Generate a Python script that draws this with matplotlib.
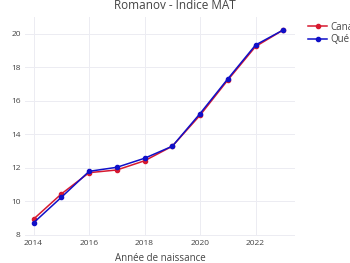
import matplotlib
matplotlib.use("Agg")
import matplotlib.pyplot as plt

years = [2014, 2015, 2016, 2017, 2018, 2019, 2020, 2021, 2022, 2023]
canada = [8.95, 10.45, 11.72, 11.88, 12.43, 13.30, 15.15, 17.25, 19.25, 20.24]
quebec = [8.73, 10.25, 11.80, 12.04, 12.58, 13.30, 15.25, 17.32, 19.34, 20.24]
series_names = ["Canada", "Québec"]
x_ticks = [2014, 2016, 2018, 2020, 2022]
y_ticks = [8, 10, 12, 14, 16, 18, 20]

plt.rcParams["font.family"] = ["Open Sans", "DejaVu Sans"]
W, H = 350, 263
fig = plt.figure(figsize=(W / 100, H / 100), dpi=100)
fig.patch.set_facecolor("white")
ax = fig.add_axes([25 / W, 1 - 236 / H, 270 / W, 219 / H])

red = "#d7192f"
blue = "#1010c8"
ax.plot(years, canada, color=red, lw=1.1, marker="o", ms=3, label=series_names[0], zorder=3)
ax.plot(years, quebec, color=blue, lw=1.1, marker="o", ms=3, label=series_names[1], zorder=4)

ax.set_xlim(2013.69, 2023.42)
ax.set_ylim(7.94, 21.01)
ax.set_xticks(x_ticks)
ax.set_yticks(y_ticks)
ax.grid(True, color="#ececf2", lw=0.7)
ax.set_axisbelow(True)
for s in ax.spines.values():
    s.set_visible(False)
ax.tick_params(length=0, labelsize=6, colors="#444444", pad=3)
ax.set_xlabel("Année de naissance", fontsize=7, color="#444444", labelpad=4)
fig.text(175 / W, 1 - 5.5 / H, "Romanov - Indice MAT", ha="center", va="center",
         fontsize=8.5, color="#444444")

leg = ax.legend(loc="upper left", bbox_to_anchor=(308 / W, 1 - 21.5 / H),
                bbox_transform=fig.transFigure, frameon=False, fontsize=7,
                labelcolor="#444444", handlelength=2.0, handletextpad=0.3,
                labelspacing=0.15, borderaxespad=0, borderpad=0)

fig.savefig("out.png", dpi=100, facecolor="white")
